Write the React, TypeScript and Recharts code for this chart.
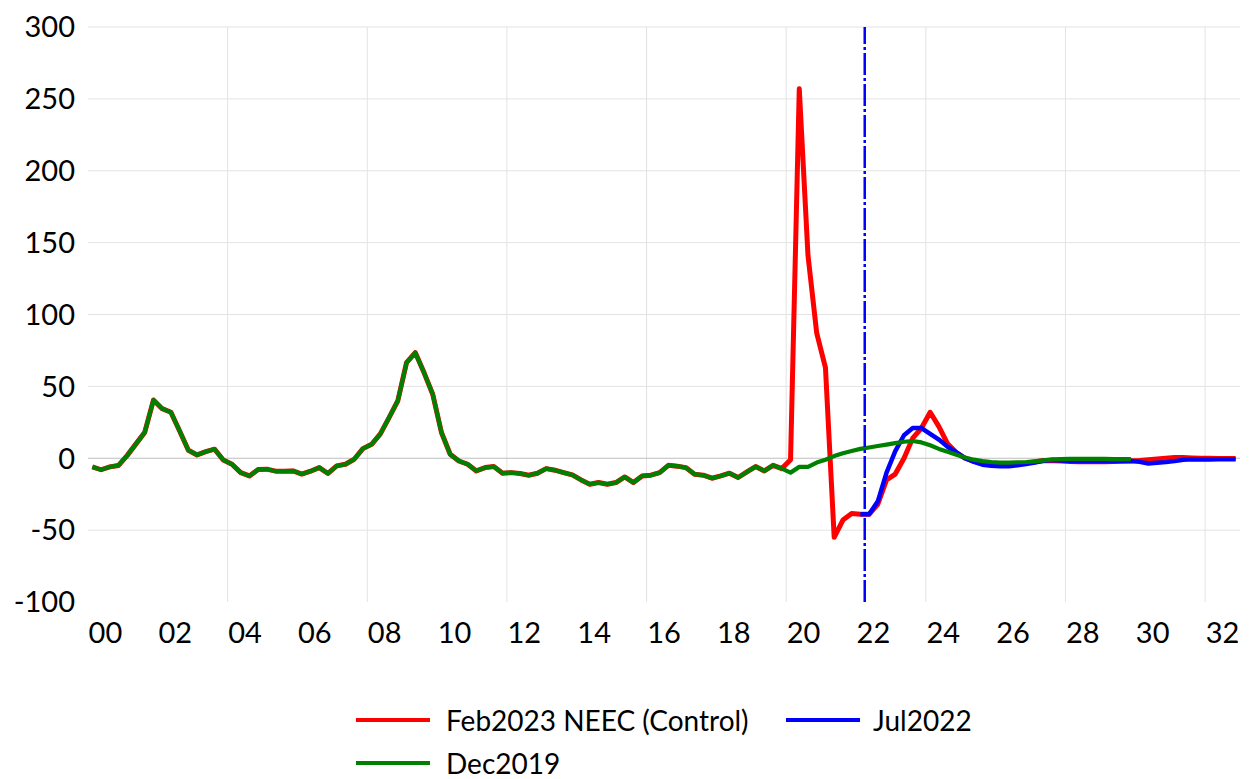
import { Legend, Line, LineChart, ReferenceLine, XAxis, YAxis } from "recharts";

// quarterly categories 2000Q1 .. 2032Q4
const years = Array.from({ length: 33 }, (_, k) => 2000 + k);
const quarters = years.flatMap((y) => ["Q1", "Q2", "Q3", "Q4"].map((q) => `${y}${q}`));

// shared history 2000Q1..2019Q4 (red and green sit on top of each other)
const history = [
  -6, -8, -6, -5, 2, 10, 18, 40.5, 34.5, 32,
  19, 5.6, 2.3, 4.6, 6.3, -1.2, -4.2, -10, -12.3, -7.8,
  -7.6, -9, -9, -8.8, -11, -9, -6.5, -10.6, -5.3, -4.2,
  -0.7, 6.7, 9.7, 17, 28.3, 40, 66.5, 73.5, 59.6, 44.5,
  17.9, 2.8, -1.9, -4.2, -8.8, -6.5, -5.8, -10.4, -10, -10.6,
  -11.8, -10.4, -7.2, -8.3, -10, -11.6, -15.1, -18.1, -16.9, -18.1,
  -16.9, -13, -16.9, -12.3, -11.8, -10, -4.9, -5.5, -6.5, -11.1,
  -11.8, -13.9, -12.3, -10.4, -13.4, -9.5, -5.8, -8.8, -4.9, -7.2
];

// 2020Q1 .. 2032Q4
const feb2023Tail = [
  -1, 257, 141, 87, 63, -55, -43, -38.5, -39, -39,
  -32, -15, -11, 0, 14, 21, 32, 22, 10, 4,
  0, -2, -3.8, -4.6, -4.9, -4.8, -4.2, -3.4, -2.4, -1.6,
  -1.8, -2, -2.3, -2.5, -2.5, -2.5, -2.5, -2.3, -2, -1.8,
  -1.5, -1, -0.5, 0, 0.5, 0.5, 0.2, 0, 0, -0.2,
  -0.2, -0.2
];

// 2020Q1 .. 2029Q4
const dec2019Tail = [
  -10, -6, -6, -3, -1, 1.5, 3.5, 5, 6.5, 7.5,
  8.5, 9.5, 10.5, 11.5, 12, 11, 9, 6.5, 4.5, 2.5,
  0.5, -1, -2, -2.6, -3, -3, -2.8, -2.6, -2.2, -1.5,
  -0.8, -0.6, -0.5, -0.5, -0.5, -0.5, -0.5, -0.6, -0.6, -0.6
];

// 2022Q1 .. 2032Q4
const julStart = "2022Q1";
const jul2022 = [
  -39, -39, -30, -10, 5, 16, 21, 21, 17, 13,
  8, 4, 0, -2.5, -4.5, -5.3, -5.6, -5.5, -4.9, -4,
  -3, -1.8, -1.2, -1.5, -2, -2, -2, -2, -2, -2,
  -2, -1.9, -2.5, -3.7, -3.2, -2.7, -2, -1, -0.7, -0.8,
  -0.8, -0.7, -0.7, -0.7
];

const feb2023 = [...history, ...feb2023Tail];
const dec2019 = [...history, ...dec2019Tail];

const yTicks = [-100, -50, 0, 50, 100, 150, 200, 250, 300];
const yGrid = [-50, 50, 100, 150, 200, 250, 300];
const xTicks = years.filter((y) => y % 2 === 0).map((y) => `${y}Q3`);
const xGrid = years.filter((y) => y % 4 === 0 && y > 2000).map((y) => `${y}Q1`);
const markerQuarter = "2022Q1";

const julIdx = quarters.indexOf(julStart);
const data = quarters.map((q, i) => ({
  q,
  feb: feb2023[i] ?? null,
  jul: i >= julIdx ? jul2022[i - julIdx] ?? null : null,
  dec: dec2019[i] ?? null
}));

const series = [
  { key: "feb", label: "Feb2023 NEEC (Control)", color: "#ff0000", width: 5 },
  { key: "jul", label: "Jul2022", color: "#0000ff", width: 4.5 },
  { key: "dec", label: "Dec2019", color: "#008000", width: 4.2 }
];

function ChartLegend() {
  return (
    <div
      style={{
        height: 97,
        paddingTop: 16,
        paddingLeft: 356,
        boxSizing: "border-box",
        display: "grid",
        gridTemplateColumns: "430px auto",
        fontSize: 28,
        color: "#000"
      }}
    >
      {series.map((s) => (
        <div key={s.key} style={{ display: "flex", alignItems: "center", height: 43 }}>
          <span style={{ width: 74, height: 4, background: s.color, display: "inline-block" }} />
          <span style={{ marginLeft: s.key === "jul" ? 13 : 16 }}>{s.label}</span>
        </div>
      ))}
    </div>
  );
}

export default function App() {
  const tickStyle = { fill: "#000", fontSize: 29 };
  return (
    <div style={{ position: "absolute", left: 0, top: 0, fontFamily: "Lato, sans-serif" }}>
      <LineChart width={1250} height={779} data={data} margin={{ top: 27, right: 10, bottom: 0, left: 0 }}>
        <XAxis
          dataKey="q"
          scale="band"
          ticks={xTicks}
          interval={0}
          axisLine={false}
          tickLine={false}
          tickSize={0}
          tickMargin={20}
          height={80}
          tick={{ ...tickStyle, dx: -4.4 }}
          tickFormatter={(v: string) => v.slice(2, 4)}
        />
        <YAxis
          domain={[-100, 300]}
          ticks={yTicks}
          interval={0}
          axisLine={false}
          tickLine={false}
          tickSize={0}
          tickMargin={13}
          width={88}
          tick={tickStyle}
        />
        {yGrid.map((v) => (
          <ReferenceLine key={`h${v}`} y={v} stroke="#e3e3e3" strokeWidth={1} />
        ))}
        {xGrid.map((c) => (
          <ReferenceLine key={`v${c}`} x={c} position="start" stroke="#e3e3e3" strokeWidth={1} />
        ))}
        <ReferenceLine y={0} stroke="#bfbfbf" strokeWidth={1} />
        {series.map((s) => (
          <Line
            key={s.key}
            type="linear"
            dataKey={s.key}
            name={s.label}
            stroke={s.color}
            strokeWidth={s.width}
            strokeLinejoin="round"
            dot={false}
            activeDot={false}
            isAnimationActive={false}
          />
        ))}
        <ReferenceLine
          x={markerQuarter}
          position="end"
          stroke="#0000ff"
          strokeWidth={2.5}
          strokeDasharray="22 3 3 3"
        />
        <Legend verticalAlign="bottom" content={() => <ChartLegend />} />
      </LineChart>
    </div>
  );
}
